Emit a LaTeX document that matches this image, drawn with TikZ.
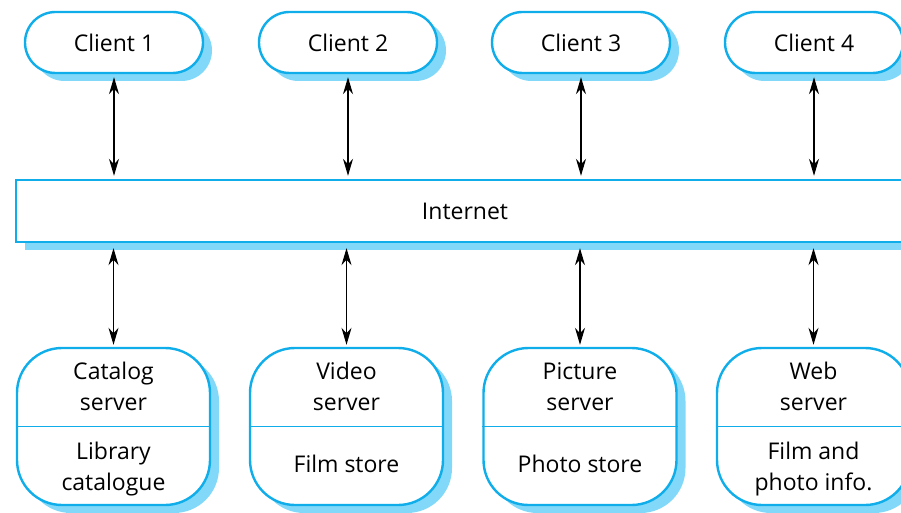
\documentclass[tikz,border=0pt]{standalone}
\usepackage{fontspec}
\setmainfont{Open Sans}
\usetikzlibrary{arrows.meta,shadows}
\definecolor{netcyan}{HTML}{0FAEEA}
\definecolor{shadowblue}{HTML}{82D8F8}

\begin{document}
\begin{tikzpicture}[x=1pt,y=-1pt,
  font=\fontsize{23}{31}\selectfont,
  boxshadow/.style={drop shadow={shadow xshift=9pt,shadow yshift=-8pt,fill=shadowblue,opacity=1}},
  clientbox/.style={draw=netcyan,line width=2.4pt,fill=white,rounded corners=30.5pt,
    minimum width=178pt,minimum height=61pt,inner sep=0pt,boxshadow},
  netbox/.style={draw=netcyan,line width=2.4pt,fill=white,
    minimum width=898pt,minimum height=62pt,inner sep=0pt,boxshadow},
  serverbox/.style={draw=netcyan,line width=2.4pt,fill=white,rounded corners=45pt,
    minimum width=193pt,minimum height=157pt,inner sep=0pt,boxshadow},
  label/.style={align=center,inner sep=0pt},
  divline/.style={draw=netcyan,line width=0.9pt},
  link/.style={line width=1.1pt,{Stealth[length=17pt,width=10pt]}-{Stealth[length=17pt,width=10pt]}}]
\useasboundingbox (0,0) rectangle (901,513);
% clients
\node[clientbox] (client1) at (114,42.5) {Client 1};
\node[clientbox] (client2) at (348,42.5) {Client 2};
\node[clientbox] (client3) at (581,42.5) {Client 3};
\node[clientbox] (client4) at (814,42.5) {Client 4};
% internet
\node[netbox] (internet) at (465,211) {Internet};
% servers
\node[serverbox] (catalog) at (113.5,426.5) {};
\node[serverbox] (video) at (346.5,426.5) {};
\node[serverbox] (picture) at (580,426.5) {};
\node[serverbox] (web) at (813.5,426.5) {};
\draw[divline] (catalog.west) -- (catalog.east);
\draw[divline] (video.west) -- (video.east);
\draw[divline] (picture.west) -- (picture.east);
\draw[divline] (web.west) -- (web.east);
\node[label] (catalogname) at (113.5,386.5) {Catalog\\server};
\node[label] (catalogstore) at (113.5,469) {Library\\catalogue};
\node[label] (videoname) at (346.5,386.5) {Video\\server};
\node[label] (videostore) at (346.5,464) {Film store};
\node[label] (picturename) at (580,386.5) {Picture\\server};
\node[label] (picturestore) at (580,464) {Photo store};
\node[label] (webname) at (813.5,386.5) {Web\\server};
\node[label] (webstore) at (813.5,469) {Film and\\photo info.};
% links
\draw[link] ([yshift=-3pt]client1.south) -- ([yshift=3pt]client1.south |- internet.north);
\draw[link] ([yshift=-3pt]client2.south) -- ([yshift=3pt]client2.south |- internet.north);
\draw[link] ([yshift=-3pt]client3.south) -- ([yshift=3pt]client3.south |- internet.north);
\draw[link] ([yshift=-3pt]client4.south) -- ([yshift=3pt]client4.south |- internet.north);
\draw[link] ([yshift=-5pt]catalog.north |- internet.south) -- ([yshift=2pt]catalog.north);
\draw[link] ([yshift=-5pt]video.north |- internet.south) -- ([yshift=2pt]video.north);
\draw[link] ([yshift=-5pt]picture.north |- internet.south) -- ([yshift=2pt]picture.north);
\draw[link] ([yshift=-5pt]web.north |- internet.south) -- ([yshift=2pt]web.north);
\end{tikzpicture}
\end{document}
